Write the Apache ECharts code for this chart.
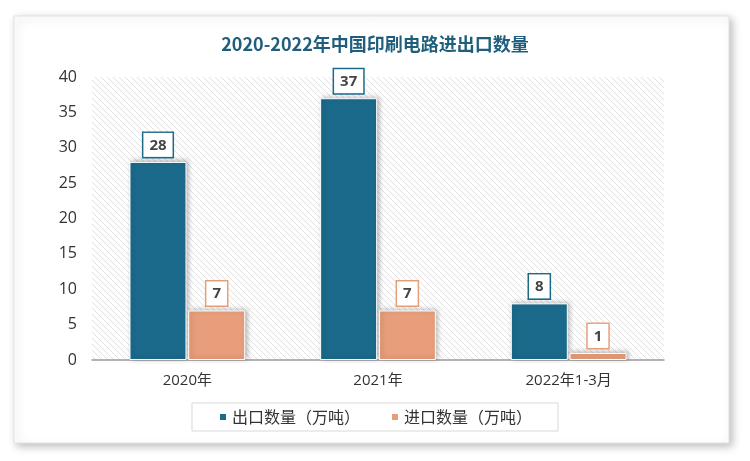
<!DOCTYPE html>
<html><head><meta charset="utf-8">
<script src="https://cdn.jsdelivr.net/npm/echarts@6/dist/echarts.min.js"></script>
<style>html,body{margin:0;padding:0;background:#fff}#c{width:750px;height:461px}</style>
</head><body><div id="c"></div>
<script>
const categories = ['2020年', '2021年', '2022年1-3月'];
const exportValues = [28, 37, 8];
const importValues = [7, 7, 1];
const seriesNames = ['出口数量（万吨）', '进口数量（万吨）'];
const titleText = '2020-2022年中国印刷电路进出口数量';

const pc = document.createElement('canvas');
pc.width = 6; pc.height = 6;
const g = pc.getContext('2d');
g.fillStyle = '#ffffff'; g.fillRect(0,0,6,6);
g.strokeStyle = '#e1e1e1'; g.lineWidth = 1;
g.beginPath();
g.moveTo(-1,-1); g.lineTo(7,7);
g.moveTo(-1,5); g.lineTo(1,7);
g.moveTo(5,-1); g.lineTo(7,1);
g.stroke();

const chart = echarts.init(document.getElementById('c'));
const labelFor = (col) => ({
  show: true, position: 'top', distance: 5,
  backgroundColor: '#fff', borderColor: col, borderWidth: 1.5,
  padding: [5, 6, 4, 6], fontSize: 15, fontWeight: 'bold', color: '#454545',
  fontFamily: '"Open Sans", "Liberation Sans", sans-serif'
});
chart.setOption({
  backgroundColor: '#fff',
  textStyle: { fontFamily: '"Noto Sans CJK SC", "Liberation Sans", sans-serif' },
  graphic: [{
    type: 'rect', z: -100, silent: true,
    shape: { x: 14, y: 16, width: 715, height: 427 },
    style: { fill: '#fff', stroke: '#e2e2e2', lineWidth: 1,
      shadowBlur: 8, shadowColor: 'rgba(0,0,0,0.25)', shadowOffsetX: 3, shadowOffsetY: 3 }
  }],
  title: {
    text: titleText, left: 'center', top: 30,
    textStyle: { fontSize: 18, fontWeight: 'bold', color: '#1f5f7d',
      fontFamily: '"Noto Sans CJK SC", sans-serif' }
  },
  grid: {
    left: 92, right: 86, top: 77, bottom: 101, containLabel: false,
    show: true, borderWidth: 0,
    backgroundColor: { image: pc, repeat: 'repeat' }
  },
  legend: {
    data: seriesNames, left: 'center', top: 403,
    icon: 'rect', itemWidth: 8, itemHeight: 8, itemGap: 30,
    borderColor: '#d9d9d9', borderWidth: 1, padding: [6, 26],
    textStyle: { fontSize: 16, color: '#333' }
  },
  xAxis: {
    type: 'category', data: categories,
    axisLine: { lineStyle: { color: '#9a9a9a', width: 1.5 } },
    axisTick: { show: false },
    axisLabel: { fontSize: 15, color: '#333', margin: 13, fontFamily: '"Open Sans", "Noto Sans CJK SC", sans-serif' }
  },
  yAxis: {
    type: 'value', min: 0, max: 40, interval: 5,
    axisLine: { show: false }, axisTick: { show: false },
    splitLine: { show: false },
    axisLabel: { fontSize: 16, color: '#333', margin: 15, fontFamily: '"Open Sans", sans-serif' }
  },
  series: [
    { name: seriesNames[0], type: 'bar', data: exportValues, barWidth: 57, barGap: '3%',
      itemStyle: { color: '#1b6a8c', borderColor: '#fff', borderWidth: 1,
        shadowBlur: 5, shadowColor: 'rgba(0,0,0,0.3)', shadowOffsetX: 2, shadowOffsetY: -1 },
      label: labelFor('#1b6a8c') },
    { name: seriesNames[1], type: 'bar', data: importValues, barWidth: 57,
      itemStyle: { color: '#e99e7b', borderColor: '#fff', borderWidth: 1,
        shadowBlur: 5, shadowColor: 'rgba(0,0,0,0.3)', shadowOffsetX: 2, shadowOffsetY: -1 },
      label: labelFor('#e99e7b') }
  ]
});
</script></body></html>
